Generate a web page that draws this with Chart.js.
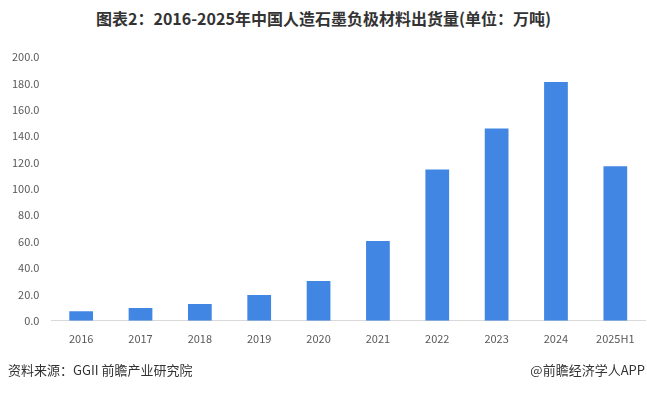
<!DOCTYPE html>
<html>
<head>
<meta charset="utf-8">
<script src="https://cdn.jsdelivr.net/npm/chart.js@4"></script>
<style>
  html, body { margin: 0; padding: 0; background: #fff; }
  body { width: 647px; height: 393px; position: relative; overflow: hidden;
         font-family: "Noto Sans CJK SC", "Noto Sans", sans-serif; }
  #title { position: absolute; top: 6px; left: 0; width: 647px; text-align: center;
           font-size: 16px; font-weight: bold; color: #333; }
  #wrap { position: absolute; left: 0; top: 0; width: 647px; height: 393px; }
  .foot { position: absolute; top: 360px; font-size: 13px; color: #333; }
</style>
</head>
<body>
<div id="title">图表2：2016-2025年中国人造石墨负极材料出货量(单位：万吨)</div>
<div id="wrap"><canvas id="shipChart"></canvas></div>
<div class="foot" style="left:8px;">资料来源：GGII 前瞻产业研究院</div>
<div class="foot" style="right:2px;">@前瞻经济学人APP</div>
<script>
// 年份
const years = ['2016', '2017', '2018', '2019', '2020', '2021', '2022', '2023', '2024', '2025H1'];
// 出货量（万吨）
const shipments = [7.3, 9.7, 12.8, 19.6, 30.1, 60.5, 114.8, 145.8, 181.0, 117.2];
// 縦軸
const yMin = 0;
const yMax = 200;
const yStep = 20;

let ctx = document.getElementById('shipChart').getContext('2d');

new Chart(ctx, {
    type: 'bar',
    data: {
        labels: years,
        datasets: [{
            label: '出货量',
            data: shipments,
            backgroundColor: '#4286e3',
            barPercentage: 0.8,
            categoryPercentage: 0.5
        }]
    },
    options: {
        responsive: true,
        maintainAspectRatio: false,
        animation: false,
        layout: { padding: { top: 57, left: 0, right: 2, bottom: 45 } },
        plugins: {
            legend: { display: false },
            tooltip: { enabled: false }
        },
        scales: {
            x: {
                grid: { display: false },
                border: { color: '#d9d9d9', width: 1 },
                ticks: {
                    color: '#595959',
                    font: { size: 11, family: '"Noto Sans CJK SC", sans-serif' },
                    padding: 3,
                    maxRotation: 0
                }
            },
            y: {
                min: yMin,
                max: yMax,
                grid: { display: false, drawTicks: false },
                border: { display: false },
                ticks: {
                    stepSize: yStep,
                    color: '#595959',
                    font: { size: 11, family: '"Noto Sans CJK SC", sans-serif' },
                    padding: 12,
                    callback: v => v.toFixed(1)
                }
            }
        }
    }
});
</script>
</body>
</html>
